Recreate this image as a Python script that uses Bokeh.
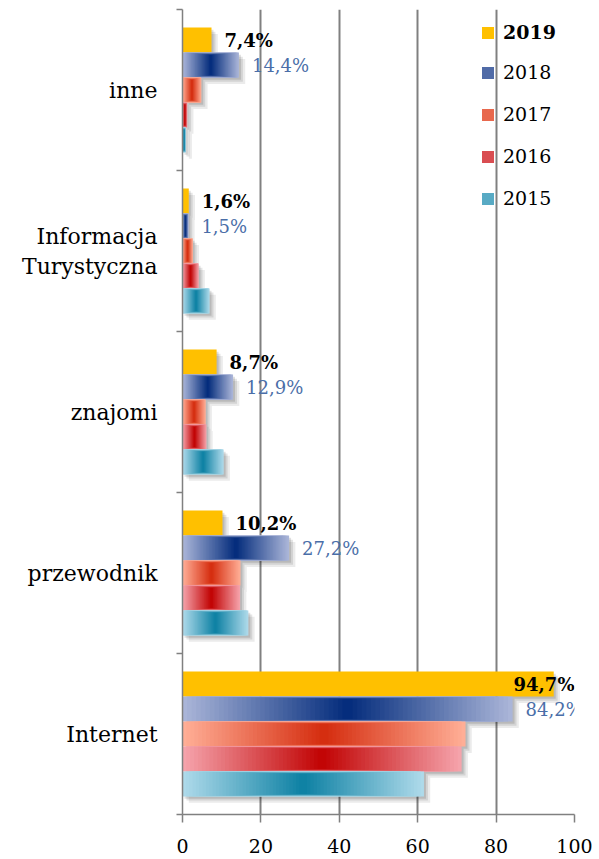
import numpy as np
from bokeh.plotting import figure
from bokeh.models import (ColumnDataSource, FixedTicker, Legend, LegendItem,
                          LabelSet, Range1d)
from bokeh.core.properties import field, value
from bokeh.embed import file_html
from bokeh.resources import INLINE

# ---------------- data ----------------
categories = ["Internet", "przewodnik", "znajomi", "Informacja\nTurystyczna", "inne"]
years = ["2019", "2018", "2017", "2016", "2015"]
v2019 = [94.7, 10.2, 8.7, 1.6, 7.4]
v2018 = [84.2, 27.2, 12.9, 1.5, 14.4]
v2017 = [72.2, 14.8, 5.9, 2.6, 4.8]
v2016 = [71.2, 14.7, 6.1, 4.1, 1.2]
v2015 = [61.6, 16.8, 10.5, 6.9, 0.8]
x_ticks = [0, 20, 40, 60, 80, 100]

# ---------------- style ----------------
FONT = "DejaVu Serif"
GRID = "#808080"
BAR_H = 0.155
colours = {
    "2019": ("#ffc000", None),
    "2018": ("#aab5d8", "#00297a"),
    "2017": ("#ffae96", "#d42a0c"),
    "2016": ("#f5a3ab", "#c00000"),
    "2015": ("#aedaea", "#0a7fa2"),
}
series = dict(zip(years, [v2019, v2018, v2017, v2016, v2015]))
offsets = {y: (2 - i) * BAR_H for i, y in enumerate(years)}
cat_pos = np.arange(len(categories), dtype=float)


def hex2rgb(h):
    h = h.lstrip("#")
    return np.array([int(h[i:i + 2], 16) for i in (0, 2, 4)], dtype=float)


def mix(c1, c2, t):
    c = hex2rgb(c1) * (1 - t) + hex2rgb(c2) * t
    return "#%02x%02x%02x" % tuple(int(round(v)) for v in c)


p = figure(width=599, height=859,
           x_range=Range1d(0, 100), y_range=Range1d(-0.5, len(categories) - 0.5),
           output_backend="svg", toolbar_location=None,
           min_border_left=182, min_border_right=25,
           min_border_top=9, min_border_bottom=45)
p.outline_line_color = None
p.background_fill_color = "white"
p.border_fill_color = "white"

# grid
p.xgrid.ticker = FixedTicker(ticks=x_ticks)
p.xgrid.grid_line_color = GRID
p.xgrid.grid_line_width = 2
p.ygrid.grid_line_color = None

# x axis
p.xaxis.ticker = FixedTicker(ticks=x_ticks)
p.xaxis.axis_line_color = GRID
p.xaxis.axis_line_width = 1.5
p.xaxis.major_tick_line_color = GRID
p.xaxis.major_tick_line_width = 1.5
p.xaxis.major_tick_out = 8
p.xaxis.major_tick_in = 0
p.xaxis.minor_tick_line_color = None
p.xaxis.major_label_text_font = FONT
p.xaxis.major_label_text_font_size = "19px"
p.xaxis.major_label_text_color = "black"
p.xaxis.major_label_standoff = 16

# y axis (labels at band centres, ticks at band boundaries)
p.yaxis.ticker = FixedTicker(ticks=list(cat_pos),
                             minor_ticks=list(np.arange(len(categories) + 1) - 0.5))
p.yaxis.major_label_overrides = {i: c for i, c in enumerate(categories)}
p.yaxis.major_tick_line_color = None
p.yaxis.major_tick_out = 0
p.yaxis.major_tick_in = 0
p.yaxis.minor_tick_line_color = GRID
p.yaxis.minor_tick_line_width = 1.5
p.yaxis.minor_tick_out = 6
p.yaxis.minor_tick_in = 0
p.yaxis.axis_line_color = GRID
p.yaxis.axis_line_width = 1.5
p.yaxis.major_label_text_font = FONT
p.yaxis.major_label_text_font_size = "22px"
p.yaxis.major_label_text_color = "black"
p.yaxis.major_label_standoff = 19

# shadows (soft, offset down-right)
for yr in years:
    vals = np.array(series[yr])
    ys = cat_pos + offsets[yr]
    for dx, dy, a in ((1.6, 0.04, 0.08), (1.0, 0.026, 0.10), (0.5, 0.014, 0.12)):
        p.hbar(y=ys - dy, left=dx, right=vals + dx, height=BAR_H,
               fill_color="black", fill_alpha=a, line_color=None)

# bars (centre-out gradient built from nested layers)
legend_r = {}
N = 36
for yr in years:
    vals = np.array(series[yr])
    ys = cat_pos + offsets[yr]
    edge, centre = colours[yr]
    if centre is None:
        r = p.hbar(y=ys, left=0, right=vals, height=BAR_H,
                   fill_color=edge, line_color=None)
        legend_r[yr] = r
        continue
    for k in range(N):
        t = k / (N - 1)
        half = vals / 2 * (1 - 0.97 * t)
        r = p.hbar(y=ys, left=vals / 2 - half, right=vals / 2 + half,
                   height=BAR_H * (1 - 0.2 * t),
                   fill_color=mix(edge, centre, 0.97 * t), line_color=None)
        if k == int(N * 0.55):
            legend_r[yr] = r

# value labels
def fmt(v):
    return ("%.1f" % v).replace(".", ",") + "%"


for yr, colour, style in (("2019", "black", "bold"), ("2018", "#4a6ea8", "normal")):
    vals = np.array(series[yr])
    clamp = vals > 90
    src = ColumnDataSource(dict(
        x=np.where(clamp, 100, vals),
        y=cat_pos + offsets[yr],
        text=[fmt(v) for v in vals],
        align=np.where(clamp, "right", "left"),
        xo=np.where(clamp, 0, 13),
    ))
    p.add_layout(LabelSet(x="x", y="y", text="text", source=src,
                          x_offset=field("xo"), text_align=field("align"),
                          text_baseline="middle", text_font=value(FONT),
                          text_font_size=value("18px"),
                          text_font_style=value(style),
                          text_color=value(colour)))

# legends
def make_legend(items, loc, style):
    return Legend(items=items, location=loc, orientation="vertical",
                  padding=0, margin=0, spacing=20,
                  glyph_width=15, glyph_height=15, label_height=15,
                  label_standoff=8, border_line_color=None,
                  background_fill_alpha=0, label_text_font=FONT,
                  label_text_font_size="19px", label_text_font_style=style,
                  label_text_color="black")


legA = make_legend([LegendItem(label="2019", renderers=[legend_r["2019"]])],
                   (298, 771), "bold")
legB = make_legend([LegendItem(label=y, renderers=[legend_r[y]]) for y in years[1:]],
                   (298, 605), "normal")
p.add_layout(legA)
p.add_layout(legB)

open("out.html", "w").write(file_html(p, INLINE))
